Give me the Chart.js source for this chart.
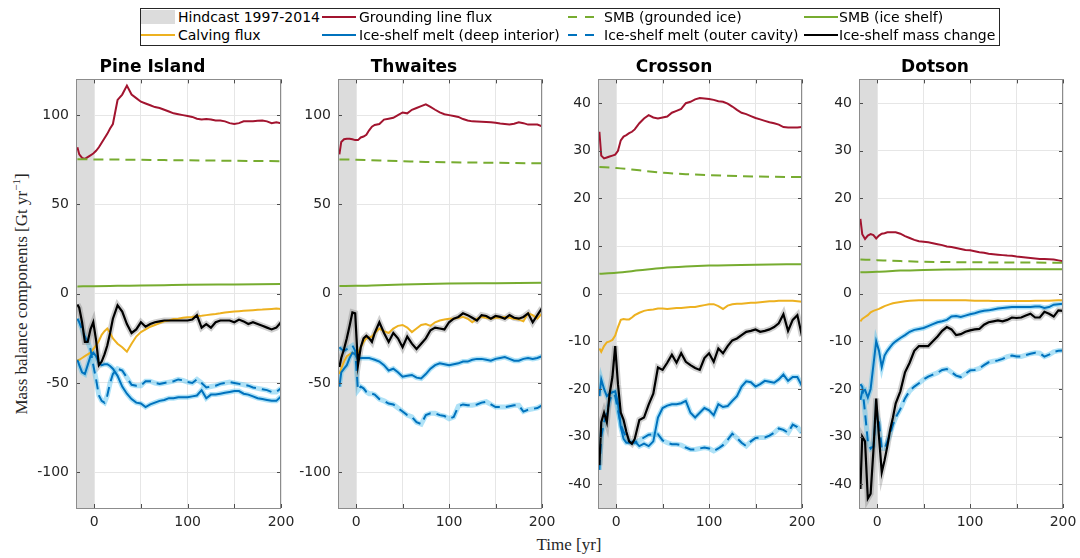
<!DOCTYPE html>
<html><head><meta charset="utf-8">
<script src="https://cdn.jsdelivr.net/npm/chart.js@4.4.1/dist/chart.umd.min.js"></script>
<style>
html,body{margin:0;padding:0;background:#fff;}
body{width:1080px;height:558px;overflow:hidden;position:relative;font-family:"DejaVu Sans",sans-serif;}
canvas{position:absolute;}
#legendBox{position:absolute;left:140px;top:8px;width:860px;height:38px;box-sizing:border-box;border:1px solid #262626;background:#fff;}
.lgIcon{position:absolute;line-height:0;}
.lgIcon svg{display:block;}
.lgText{position:absolute;font-size:14px;line-height:16px;color:#000;white-space:nowrap;}
#ylab{position:absolute;left:21px;top:294px;transform:translate(-50%,-50%) rotate(-90deg);font-family:"Liberation Serif",serif;font-size:17px;color:#262626;white-space:nowrap;}
#xlab{position:absolute;left:569px;top:545px;transform:translate(-50%,-50%);font-family:"Liberation Serif",serif;font-size:17px;color:#262626;white-space:nowrap;}
sup{font-size:11px;}
</style>
</head><body>
<div id="legendBox"></div>
<div id="ylab">Mass balance components [Gt yr<sup>&minus;1</sup>]</div>
<div id="xlab">Time [yr]</div>
<script>
// ---------------- DATA ----------------
const PANEL_NAMES = ['Pine Island','Thwaites','Crosson','Dotson'];
const SERIES_NAMES = ['Hindcast 1997-2014','Grounding line flux','SMB (grounded ice)','SMB (ice shelf)',
  'Calving flux','Ice-shelf melt (deep interior)','Ice-shelf melt (outer cavity)','Ice-shelf mass change'];

const T = [-18,-16,-13,-10,-7,-4,-1,2,5,8,11,14,17,20,25,30,35,40,45,50,55,60,65,70,75,80,85,90,95,100,
  105,110,115,120,125,130,135,140,145,150,155,160,165,170,175,180,185,190,195,200];
const T_SMB = [-18,0,25,50,75,100,150,200];
const HINDCAST = [-19.5, 0];
const X_RANGE = [-19.5, 200];
const X_TICKS = [0,50,100,150,200];
const X_LABELED = [0,100,200];
const Y_TICKS_LARGE = [-100,-50,0,50,100];
const Y_RANGE_LARGE = [-120,120];
const Y_TICKS_SMALL = [-40,-30,-20,-10,0,10,20,30,40];
const Y_RANGE_SMALL = [-45,45];

// Pine Island
const PI_GL = [82,78,76,75.5,76.5,77.5,78.5,80,82,84.5, 87,89.5,92.5,95,108.5,111.5,116.5,111.5,109.5,107.5,
  106.5,105.5,104.5,104,103,102,101,100.5,100,99.5, 99,98,97.5,97.8,97.5,97,97,96.5,95.5,95,
  95.5,96.5,96.5,96.5,96.8,97,96.5,95.5,96,95.5];
const PI_SMBG = [75.3,75.2,75.1,75,74.8,74.7,74.4,74.2];
const PI_SMBS = [4.1,4.2,4.4,4.6,4.8,5.0,5.2,5.4];
const PI_CALV = [-37.5,-37,-36,-35,-34,-33,-31,-29,-26.5,-23, -21,-19.5,-22,-25,-28,-30,-32.5,-28,-24,-21.5,
  -20,-18.5,-17.5,-16.5,-15.5,-15,-14.2,-14,-13.5,-13.2, -13,-12.5,-12.3,-12,-11.7,-11.4,-11,-10.5,-10.2,-10,
  -9.8,-9.6,-9.4,-9.2,-9,-8.9,-8.7,-8.5,-8.3,-8.5];
const PI_DEEP = [-37,-40,-44,-45,-40,-35,-33,-35,-39,-40, -39.5,-39.5,-40.5,-42,-46,-52,-56,-59,-61,-61.5,
  -63.5,-62,-61,-60,-59.5,-58.5,-58.5,-58,-58,-58, -57.5,-57,-54,-58.5,-56.5,-56.5,-56,-55.5,-55,-54.5,
  -54.5,-56,-56.5,-57.5,-58.5,-59,-59.5,-60,-60,-57.5];
const PI_OUTER = [-14,-16,-20,-24,-27,-31,-40,-48,-57,-60, -61,-57,-50,-45,-42,-43,-47,-51,-51.5,-51.5,
  -49,-49,-50,-50.5,-50,-49.5,-49,-48,-48.5,-49.5, -50,-48,-50,-52.5,-52,-51.5,-50.5,-50,-49.5,-50,
  -50.5,-51,-51.5,-52.5,-53,-53.5,-54,-55,-55,-53];
const PI_MASS = [-6,-8,-16,-27,-27,-20,-16,-26,-40,-38, -34,-29,-22,-14,-6.5,-10,-17,-22,-20,-16,
  -18.5,-17,-16,-15.5,-15,-15,-15,-15,-15,-15, -14.5,-12,-19,-17,-19,-16,-15,-15,-15,-16,
  -14.5,-15.5,-17,-16,-17,-18,-19,-20,-19,-16];

// Thwaites
const TH_GL = [78,85,86.5,86.8,86.8,86.5,86,86,87.5,88, 89,91.5,93.5,94.5,95,97.5,98,98.5,100,101.5,
  101,103,104,105,106,104.6,103,101.5,100.5,100, 99.5,99,97.8,97,96.5,96.4,96.3,96.2,96,95.7,
  95.3,95,94.7,95.2,96,95.5,94.7,94.7,94.7,93.8];
const TH_SMBG = [75.2,75.0,74.6,74.2,73.8,73.6,73.3,73.0];
const TH_SMBS = [4.3,4.4,4.8,5.2,5.5,5.7,5.9,6.1];
const TH_CALV = [-45,-42,-38,-35,-34,-33,-34,-33,-30,-27, -25,-24.5,-24,-22,-19.5,-21,-22,-19.5,-18,-17.5,
  -19,-21.5,-19.5,-17.5,-17,-18,-16,-15,-14.5,-14, -14,-13.5,-13,-14,-16,-14,-13,-13.5,-14,-13.5,
  -13.5,-13,-13.5,-14,-14.5,-15.5,-11,-12,-14,-11];
const TH_DEEP = [-52,-44,-42,-40,-36,-33,-34,-37,-36,-36, -36,-36,-36.5,-37,-38,-40,-43,-42,-44,-46.5,
  -46,-45.5,-47,-47.5,-45,-42,-40,-39,-39.5,-40, -39.5,-39,-38,-38,-37,-36.5,-36.5,-37,-37.5,-36.5,
  -36,-35.5,-36.5,-37.5,-37.5,-36.5,-36,-36.5,-36,-35];
const TH_OUTER = [-30,-31,-32,-31,-30,-29,-32,-54,-52,-53, -55,-56,-56,-56.5,-59,-60,-61.5,-62,-64,-66,
  -68,-69,-72,-73,-68,-67,-67,-68,-68.5,-70, -69,-63,-62,-62.5,-62.5,-62,-61,-60.5,-62,-63.5,
  -63.5,-63.5,-63,-62.5,-62.5,-66,-65,-64.5,-64,-62.5];
const TH_MASS = [-41,-36,-31,-25,-18,-10.5,-11,-40,-30,-25, -23.5,-25,-27,-22,-16,-22,-27,-22,-25,-30,
  -24,-28,-31,-28,-25,-20.5,-19,-19.5,-20,-16, -14,-13,-11,-12,-13.5,-15,-12,-12.5,-14,-12.5,
  -13,-14,-12,-13.5,-14,-13,-11,-16,-12,-8];

// Crosson
const CR_GL = [34,29,28.4,28.6,28.8,29,29.2,30,32.2,33, 33.3,33.7,34,34.5,35.8,36.8,37.5,37,36.8,37,
  37.2,38,38.4,38.8,40,40.3,40.8,41.1,41,40.9, 40.7,40.4,40.3,39.9,39.3,38.6,38,37.7,37.3,36.9,
  36.6,36.3,36,35.8,35.5,35,34.9,34.9,34.9,35];
const CR_SMBG = [26.6,26.4,25.9,25.4,25.1,24.9,24.6,24.5];
const CR_SMBS = [4.2,4.4,4.9,5.4,5.7,5.9,6.1,6.2];
const CR_CALV = [-11.5,-12.2,-11,-10.2,-10,-9.7,-8.8,-7,-5.5,-5.3, -5.4,-5.4,-5,-4.5,-4,-3.6,-3.4,-3.3,-3.1,-3.1,
  -3.2,-3.1,-3,-3,-2.9,-2.8,-2.8,-2.6,-2.4,-2.2, -2.2,-2.6,-3.2,-2.5,-2.2,-2.1,-2.1,-2,-1.9,-1.9,
  -1.8,-1.7,-1.6,-1.6,-1.5,-1.5,-1.5,-1.5,-1.6,-1.7];
const CR_DEEP = [-21.5,-18,-20,-21.5,-21,-20.7,-20.5,-23,-28,-30.5, -31.3,-31.3,-31.3,-31,-32,-31.5,-32,-31,-26,-24,
  -23.5,-23.2,-23.2,-23,-22.5,-25,-26,-25,-24,-24.5, -25.5,-23.2,-23.8,-23.6,-22.5,-21.5,-19.5,-18.4,-18.6,-19.5,
  -19,-18.3,-18.5,-18.7,-18,-17,-18.3,-17.5,-17.5,-19.4];
const CR_OUTER = [-37,-30,-27,-25,-22.5,-21,-21.5,-24.5,-27.5,-29, -30.2,-31,-31.3,-31.3,-30.8,-30.2,-29.6,-29.5,-29.5,-30.8,
  -31.3,-31.6,-31.6,-31.8,-32.3,-32.7,-32.7,-32.5,-32.3,-32.5, -33,-32.5,-31.8,-30.7,-29.4,-30.3,-31.3,-32,-31,-30.3,
  -30.2,-30.2,-29.8,-29.2,-28.3,-28.6,-29.2,-27.5,-28,-29.2];
const CR_MASS = [-36,-27,-25,-27,-21,-17.5,-11,-19,-25,-26.5, -29,-31,-31.5,-30.5,-26.5,-26,-23.3,-21,-15.5,-16,
  -14.5,-12.8,-14.5,-12.5,-14.3,-15,-15.6,-16,-13.5,-12.5, -14.3,-11.5,-12.5,-11,-9.8,-9.4,-8.7,-8,-7.8,-7.5,
  -8,-7.8,-7.5,-7,-6.2,-4.3,-7.8,-5.5,-4.5,-8.9];

// Dotson
const DO_GL = [15.7,12.5,11.5,12.2,12.5,12.3,11.6,12.2,12.6,12.7, 12.9,12.9,12.9,12.9,12.6,12.1,11.7,11.3,11,10.9,
  10.8,10.6,10.4,10.2,9.9,9.8,9.6,9.4,9.2,9.1, 8.9,8.7,8.6,8.4,8.3,8.2,8.1,8,7.95,7.8,
  7.7,7.6,7.5,7.4,7.3,7.3,7.25,7.2,7,6.8];
const DO_SMBG = [7.2,7.05,6.85,6.7,6.65,6.6,6.55,6.5];
const DO_SMBS = [4.5,4.6,4.85,5.0,5.1,5.15,5.15,5.15];
const DO_CALV = [-5.8,-5.3,-4.9,-4.5,-3.9,-3.6,-3.4,-3.2,-2.9,-2.6, -2.4,-2.2,-2,-1.9,-1.75,-1.6,-1.5,-1.45,-1.4,-1.4,
  -1.4,-1.4,-1.4,-1.4,-1.4,-1.4,-1.4,-1.4,-1.4,-1.45, -1.5,-1.5,-1.5,-1.5,-1.55,-1.55,-1.55,-1.55,-1.55,-1.55,
  -1.55,-1.55,-1.55,-1.5,-1.5,-1.5,-1.5,-1.45,-1.4,-1.4];
const DO_DEEP = [-22.3,-20.5,-20.2,-21.8,-20,-15,-10,-12,-15.4,-13, -12,-11.2,-10.5,-10,-9.3,-8.7,-8,-7.6,-7.4,-7.2,
  -6.8,-6.4,-6,-5.8,-5.5,-4.8,-4.7,-4.9,-4.6,-4.3, -4.1,-3.8,-3.6,-3.5,-3.3,-3.1,-3,-2.9,-2.8,-2.8,
  -2.8,-2.8,-2.8,-2.7,-2.7,-3,-2.8,-2.3,-2.2,-2.1];
const DO_OUTER = [-19,-19.5,-25,-31,-32.5,-32,-25,-27,-32.5,-32.5, -31,-29.5,-27.5,-26,-24.2,-22,-20.4,-19.5,-18.8,-18,
  -17.4,-17,-16.6,-16,-15.8,-16.5,-17.2,-17.5,-16.8,-16.1, -16,-15.7,-15,-14.4,-14.2,-14,-13.7,-13.2,-13,-13.2,
  -13.2,-12.9,-12.6,-12.4,-12.5,-13.2,-12.8,-12.2,-12,-11.9];
const DO_MASS = [-41,-30,-31,-43,-42,-33,-22,-30,-37.5,-35, -32,-28.6,-26,-23,-20.5,-16.5,-14.5,-12,-11,-11,
  -11,-10,-9,-7.8,-7,-7.5,-8.7,-8.5,-8,-7.7, -7.5,-7.4,-6.5,-6,-5.8,-5.6,-5.8,-5.5,-5,-5.1,
  -5,-4.6,-4.2,-5,-5,-3.8,-4.2,-4.8,-3.5,-3.6];

// ---------------- STYLE / LAYOUT ----------------
const COL = {band:'#dcdcdc', red:'#A2142F', green:'#77AC30', orange:'#EDB120', blue:'#0072BD', black:'#000000',
  cyan:'rgba(77,190,238,0.45)', gray:'rgba(120,120,120,0.35)'};
const DASH = [10,6];
const PLOT_LEFT = [76,338,598,859];
const PLOT_RIGHT = [281,542,802,1063];
const Y_AXIS_W = 52, PAD_R = 24, CANVAS_TOP = 50, CANVAS_H = 488, X_AXIS_H = 30;

const PANELS = [
  {gl:PI_GL,smbg:PI_SMBG,smbs:PI_SMBS,calv:PI_CALV,deep:PI_DEEP,outer:PI_OUTER,mass:PI_MASS,yr:Y_RANGE_LARGE,yt:Y_TICKS_LARGE},
  {gl:TH_GL,smbg:TH_SMBG,smbs:TH_SMBS,calv:TH_CALV,deep:TH_DEEP,outer:TH_OUTER,mass:TH_MASS,yr:Y_RANGE_LARGE,yt:Y_TICKS_LARGE},
  {gl:CR_GL,smbg:CR_SMBG,smbs:CR_SMBS,calv:CR_CALV,deep:CR_DEEP,outer:CR_OUTER,mass:CR_MASS,yr:Y_RANGE_SMALL,yt:Y_TICKS_SMALL},
  {gl:DO_GL,smbg:DO_SMBG,smbs:DO_SMBS,calv:DO_CALV,deep:DO_DEEP,outer:DO_OUTER,mass:DO_MASS,yr:Y_RANGE_SMALL,yt:Y_TICKS_SMALL}
];

const xy = (xs, ys) => xs.map((x,i)=>({x:x, y:ys[i]}));

const boxPlugin = {
  id:'boxFrame',
  afterDatasetsDraw(chart){
    const {ctx, chartArea:a, scales:{x,y}} = chart;
    ctx.save();
    ctx.lineWidth = 1;
    ctx.strokeStyle = '#4d4d4d';
    ctx.beginPath();
    y.ticks.forEach(t=>{
      const py = Math.round(y.getPixelForValue(t.value))+0.5;
      ctx.moveTo(a.left, py); ctx.lineTo(a.left+4, py);
      ctx.moveTo(a.right-4, py); ctx.lineTo(a.right, py);
    });
    x.ticks.forEach(t=>{
      const px = Math.round(x.getPixelForValue(t.value))+0.5;
      ctx.moveTo(px, a.bottom); ctx.lineTo(px, a.bottom-4);
      ctx.moveTo(px, a.top); ctx.lineTo(px, a.top+4);
    });
    ctx.stroke();
    ctx.strokeStyle = '#8c8c8c';
    ctx.strokeRect(Math.round(a.left)+0.5, Math.round(a.top)+0.5, Math.round(a.right-a.left)-1, Math.round(a.bottom-a.top));
    ctx.restore();
  }
};

PANELS.forEach((p, i) => {
  const cv = document.createElement('canvas');
  const w = Y_AXIS_W + (PLOT_RIGHT[i]-PLOT_LEFT[i]) + PAD_R;
  cv.width = w; cv.height = CANVAS_H;
  cv.style.left = (PLOT_LEFT[i]-Y_AXIS_W)+'px';
  cv.style.top = CANVAS_TOP+'px';
  cv.style.width = w+'px'; cv.style.height = CANVAS_H+'px';
  document.body.appendChild(cv);

  const line = (label, xs, ys, color, extra) => Object.assign({
    label, data: xy(xs, ys), borderColor: color, backgroundColor: color,
    borderWidth: 2, pointRadius: 0, fill: false, tension: 0
  }, extra||{});

  const datasets = [
    line(SERIES_NAMES[7], T, p.mass, COL.black, {order:1, borderWidth:2.2}),
    line(SERIES_NAMES[5], T, p.deep, COL.blue, {order:2}),
    line(SERIES_NAMES[6], T, p.outer, COL.blue, {order:3, borderDash:DASH}),
    line(SERIES_NAMES[4], T, p.calv, COL.orange, {order:4}),
    line(SERIES_NAMES[3], T_SMB, p.smbs, COL.green, {order:5, cubicInterpolationMode:'monotone'}),
    line(SERIES_NAMES[2], T_SMB, p.smbg, COL.green, {order:6, borderDash:DASH, cubicInterpolationMode:'monotone'}),
    line(SERIES_NAMES[1], T, p.gl, COL.red, {order:7}),
    line('mass change (raw)', T, p.mass, COL.gray, {order:20, borderWidth:6}),
    line('melt deep (raw)', T, p.deep, COL.cyan, {order:21, borderWidth:5}),
    line('melt outer (raw)', T, p.outer, COL.cyan, {order:22, borderWidth:5}),
    {label:SERIES_NAMES[0], data:[{x:HINDCAST[0],y:p.yr[1]},{x:HINDCAST[1],y:p.yr[1]}],
      borderWidth:0, borderColor:'rgba(0,0,0,0)', backgroundColor:COL.band, fill:'start', pointRadius:0, order:50}
  ];

  new Chart(cv, {
    type:'line',
    data:{datasets},
    plugins:[boxPlugin],
    options:{
      responsive:false, animation:false, devicePixelRatio:1,
      layout:{padding:{left:0,right:PAD_R,top:0,bottom:0}},
      plugins:{
        legend:{display:false}, tooltip:{enabled:false},
        title:{display:true, text:PANEL_NAMES[i], color:'#000',
          font:{family:'DejaVu Sans', size:17, weight:'bold', lineHeight:1.2}, padding:{top:7,bottom:2}}
      },
      scales:{
        x:{type:'linear', min:X_RANGE[0], max:X_RANGE[1],
          afterBuildTicks:(s)=>{ s.ticks = X_TICKS.map(v=>({value:v})); },
          afterFit:(s)=>{ s.height = X_AXIS_H; },
          ticks:{autoSkip:false, maxRotation:0, padding:6, color:'#262626',
            font:{family:'DejaVu Sans', size:14},
            callback:(v)=> X_LABELED.includes(v) ? String(v) : ''},
          grid:{color:'#e6e6e6', drawTicks:false, lineWidth:1},
          border:{display:false}
        },
        y:{type:'linear', min:p.yr[0], max:p.yr[1],
          afterBuildTicks:(s)=>{ s.ticks = p.yt.map(v=>({value:v})); },
          afterFit:(s)=>{ s.width = Y_AXIS_W; },
          ticks:{autoSkip:false, padding:7, color:'#262626', font:{family:'DejaVu Sans', size:14},
            callback:(v)=>String(v)},
          grid:{color:'#e6e6e6', drawTicks:false, lineWidth:1},
          border:{display:false}
        }
      }
    }
  });
});

// ---------------- LEGEND (HTML) ----------------
const LEG_ICON_X = [141,322,565,804];
const LEG_TEXT_X = [178,359,604,839];
const LEG_ROW_Y = [17,35];
const LEG_STYLE = [
  {type:'box', color:COL.band}, {type:'line', color:COL.red}, {type:'dash', color:COL.green}, {type:'line', color:COL.green},
  {type:'line', color:COL.orange}, {type:'line', color:COL.blue}, {type:'dash', color:COL.blue}, {type:'line', color:COL.black}
];
SERIES_NAMES.forEach((name, k) => {
  const col = k % 4, row = Math.floor(k/4);
  const st = LEG_STYLE[k];
  const cy = LEG_ROW_Y[row];
  const icon = document.createElement('div');
  icon.className = 'lgIcon';
  const iw = 34;
  if (st.type === 'box') {
    icon.style.left = LEG_ICON_X[col]+'px'; icon.style.top = (cy-7)+'px';
    icon.style.width = iw+'px'; icon.style.height = '14px'; icon.style.background = st.color;
  } else {
    icon.style.left = LEG_ICON_X[col]+'px'; icon.style.top = (cy-2)+'px';
    const dash = st.type==='dash' ? ' stroke-dasharray="9,8" stroke-dashoffset="-3"' : '';
    icon.innerHTML = '<svg width="'+iw+'" height="4"><line x1="0" y1="2" x2="'+iw+'" y2="2" stroke="'+st.color+'" stroke-width="2"'+dash+'/></svg>';
  }
  document.body.appendChild(icon);
  const tx = document.createElement('div');
  tx.className = 'lgText';
  tx.textContent = name;
  tx.style.left = LEG_TEXT_X[col]+'px'; tx.style.top = (cy-8)+'px';
  document.body.appendChild(tx);
});
</script>
</body></html>
